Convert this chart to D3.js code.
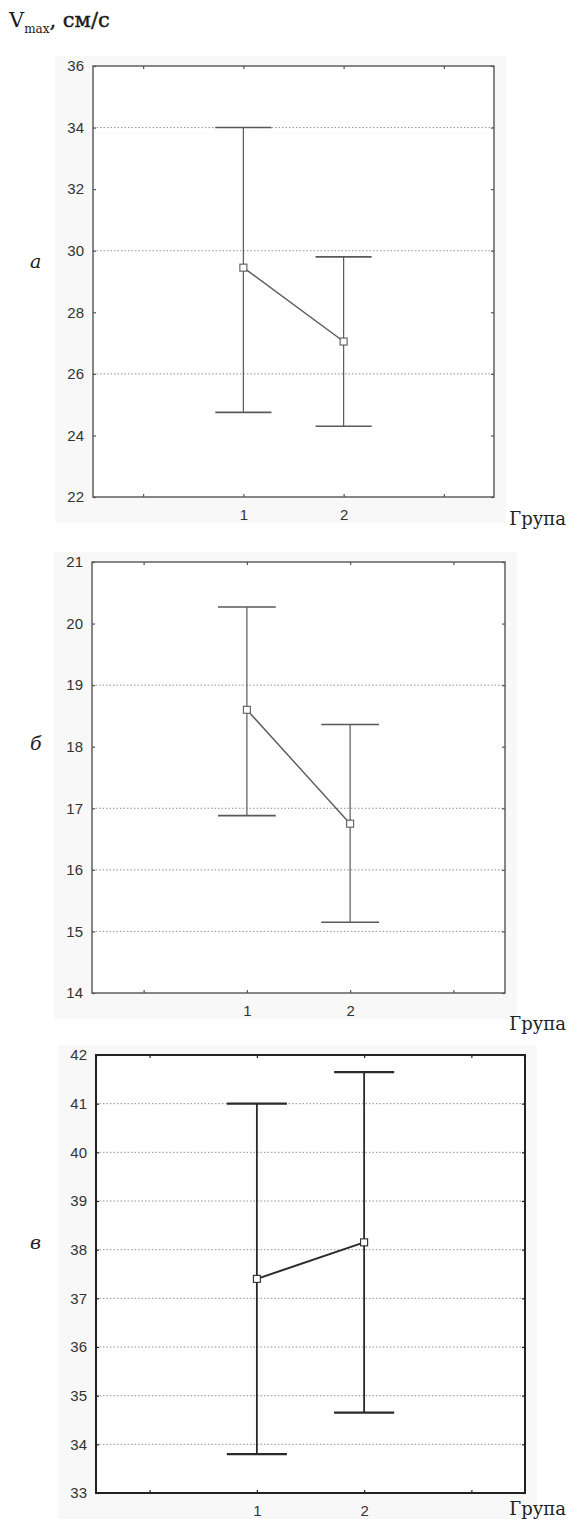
<!DOCTYPE html>
<html>
<head>
<meta charset="utf-8">
<script src="https://cdn.jsdelivr.net/npm/d3@7"></script>
<style>
  body { margin: 0; background: #fff; }
  svg { display: block; }
</style>
</head>
<body>
<div id="chart"></div>
<script>
// data
var groups = [1, 2];
var xTicks = [0, 1, 2, 3];

var meanA = [29.45, 27.05], upperA = [34.0, 29.8], lowerA = [24.75, 24.3];
var meanB = [18.6, 16.75], upperB = [20.27, 18.36], lowerB = [16.88, 15.15];
var meanC = [37.4, 38.15], upperC = [41.0, 41.65], lowerC = [33.8, 34.65];

var yTicksA = [22, 24, 26, 28, 30, 32, 34, 36], gridA = [26, 30, 34];
var yTicksB = [14, 15, 16, 17, 18, 19, 20, 21], gridB = [15, 16, 17, 19];
var yTicksC = [33, 34, 35, 36, 37, 38, 39, 40, 41, 42], gridC = [34, 35, 36, 37, 38, 39, 40, 41];

var W = 568, H = 1519;

var svg = d3.select("#chart")
  .append("svg")
    .attr("width", W)
    .attr("height", H);

// title
var title = svg.append("text")
  .attr("x", 9)
  .attr("y", 27)
  .attr("font-family", "DejaVu Serif")
  .attr("font-size", "21px")
  .attr("fill", "#1a1a1a");
title.append("tspan").text("V");
title.append("tspan").attr("font-size", "12px").attr("dy", 6).text("max");
title.append("tspan").attr("dy", -6).attr("stroke", "#1a1a1a").attr("stroke-width", 0.4).text(", см/с");

var panels = [
  {letter: "а", mean: meanA, upper: upperA, lower: lowerA, ticks: yTicksA, grid: gridA,
   left: 93, top: 66, right: 494, bottom: 497, letterY: 268, groupY: 525,
   col: "#5a5a5a", lw: 1.2, frame: "#555", fw: 1.4},
  {letter: "б", mean: meanB, upper: upperB, lower: lowerB, ticks: yTicksB, grid: gridB,
   left: 92, top: 562, right: 505, bottom: 993, letterY: 750, groupY: 1030,
   col: "#5a5a5a", lw: 1.2, frame: "#555", fw: 1.4},
  {letter: "в", mean: meanC, upper: upperC, lower: lowerC, ticks: yTicksC, grid: gridC,
   left: 96, top: 1055, right: 525, bottom: 1493, letterY: 1249, groupY: 1515,
   col: "#2a2a2a", lw: 1.8, frame: "#222", fw: 2}
];

panels.forEach(function(p) {
  var x = d3.scaleLinear().domain([-0.5, 3.5]).range([p.left, p.right]);
  var y = d3.scaleLinear().domain([p.ticks[0], p.ticks[p.ticks.length - 1]]).range([p.bottom, p.top]);
  var g = svg.append("g");

  // faint scanned backdrop
  g.append("rect")
    .attr("x", p.left - 38).attr("y", p.top - 10)
    .attr("width", p.right - p.left + 50).attr("height", p.bottom - p.top + 36)
    .attr("fill", "#f8f8f8");
  g.append("rect")
    .attr("x", p.left).attr("y", p.top)
    .attr("width", p.right - p.left).attr("height", p.bottom - p.top)
    .attr("fill", "#fefefe");

  // dotted grid
  g.append("g").selectAll("line")
    .data(p.grid)
    .enter()
    .append("line")
    .attr("x1", p.left).attr("x2", p.right)
    .attr("y1", d => y(d)).attr("y2", d => y(d))
    .attr("stroke", "#888")
    .attr("stroke-width", 0.9)
    .attr("stroke-dasharray", "1.5,2");

  // axes with inward ticks
  var axL = d3.axisLeft(y).tickValues(p.ticks).tickSize(-3).tickPadding(9).tickFormat(d3.format("d"));
  var axR = d3.axisRight(y).tickValues(p.ticks).tickSize(-3).tickFormat("");
  var axB = d3.axisBottom(x).tickValues(xTicks).tickSize(-3).tickPadding(12)
    .tickFormat(d => groups.indexOf(d) >= 0 ? d : "");
  var axT = d3.axisTop(x).tickValues(xTicks).tickSize(-3).tickFormat("");

  [[axL, "translate(" + p.left + ",0)"], [axR, "translate(" + p.right + ",0)"],
   [axB, "translate(0," + p.bottom + ")"], [axT, "translate(0," + p.top + ")"]].forEach(function(a) {
    var ag = g.append("g").attr("transform", a[1]).call(a[0]);
    ag.select(".domain").remove();
    ag.attr("font-size", null).attr("font-family", null);
    ag.selectAll(".tick line").attr("stroke", p.frame).attr("stroke-width", 1.2);
    ag.selectAll("text")
      .style("font-family", "Liberation Sans, Arial, sans-serif")
      .style("font-size", "15px")
      .attr("fill", "#333");
  });

  // frame
  g.append("rect")
    .attr("x", p.left).attr("y", p.top)
    .attr("width", p.right - p.left).attr("height", p.bottom - p.top)
    .attr("fill", "none")
    .attr("stroke", p.frame)
    .attr("stroke-width", p.fw);

  // whiskers
  var capHalf = 0.28;
  g.append("g").selectAll("line")
    .data(groups)
    .enter()
    .append("line")
    .attr("x1", d => x(d)).attr("x2", d => x(d))
    .attr("y1", (d, i) => y(p.upper[i])).attr("y2", (d, i) => y(p.lower[i]))
    .attr("stroke", p.col).attr("stroke-width", p.lw);

  ["upper", "lower"].forEach(function(k) {
    g.append("g").selectAll("line")
      .data(groups)
      .enter()
      .append("line")
      .attr("x1", d => x(d - capHalf)).attr("x2", d => x(d + capHalf))
      .attr("y1", (d, i) => y(p[k][i])).attr("y2", (d, i) => y(p[k][i]))
      .attr("stroke", p.col).attr("stroke-width", p.lw + 0.4);
  });

  // mean line
  g.append("path")
    .datum(groups)
    .attr("d", d3.line().x(d => x(d)).y((d, i) => y(p.mean[i])))
    .attr("fill", "none")
    .attr("stroke", p.col)
    .attr("stroke-width", p.lw + 0.2);

  // mean markers
  g.append("g").selectAll("rect")
    .data(groups)
    .enter()
    .append("rect")
    .attr("x", d => x(d) - 3.5)
    .attr("y", (d, i) => y(p.mean[i]) - 3.5)
    .attr("width", 7).attr("height", 7)
    .attr("fill", "#fff")
    .attr("stroke", p.col)
    .attr("stroke-width", 1.1);

  // panel letter
  svg.append("text")
    .attr("x", 30)
    .attr("y", p.letterY)
    .attr("font-family", "DejaVu Serif")
    .attr("font-style", "italic")
    .attr("font-size", "19px")
    .attr("fill", "#222")
    .text(p.letter);

  // axis title
  svg.append("text")
    .attr("x", 566)
    .attr("y", p.groupY)
    .attr("text-anchor", "end")
    .attr("font-family", "DejaVu Serif")
    .attr("font-size", "18px")
    .attr("fill", "#222")
    .text("Група");
});
</script>
</body>
</html>
